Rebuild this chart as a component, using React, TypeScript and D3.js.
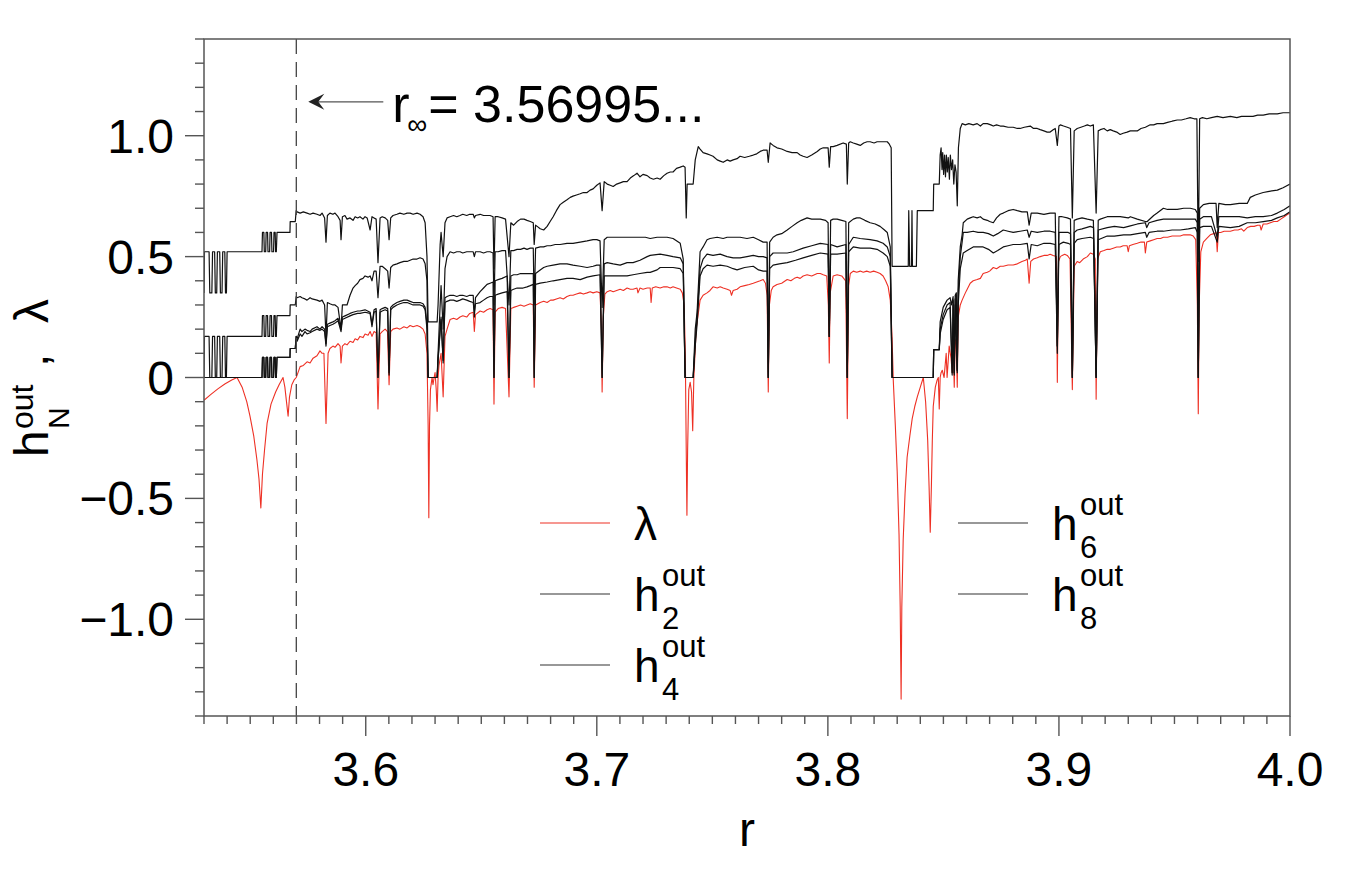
import React from 'react';
import * as d3 from 'd3';

type Pt = [number, number];

const W = 1355;
const H = 873;
const plot = { left: 204, right: 1290, top: 39, bottom: 716 };

const rInf = 3.56995;
const xMajor = [3.6, 3.7, 3.8, 3.9, 4.0];
const xLabels = ['3.6', '3.7', '3.8', '3.9', '4.0'];
const yMajor = [-1.0, -0.5, 0, 0.5, 1.0];
const yLabels = ['\u22121.0', '\u22120.5', '0', '0.5', '1.0'];

// Lyapunov exponent (red)
const lambdaData: Pt[] = [
  [3.5300, -0.094], [3.5330, -0.07], [3.5360, -0.047], [3.5390, -0.027], [3.5420, -0.01], [3.5443, 0.0],
  [3.5465, -0.04], [3.5485, -0.1], [3.5499, -0.16], [3.5515, -0.24], [3.5529, -0.34], [3.5538, -0.42],
  [3.5546, -0.54], [3.5553, -0.4], [3.5562, -0.3], [3.5573, -0.19], [3.5590, -0.11], [3.5610, -0.06],
  [3.5625, -0.03], [3.5642, 0.0], [3.5650, -0.04], [3.5657, -0.1], [3.5664, -0.16], [3.5670, -0.08],
  [3.5680, -0.03], [3.5690, -0.01], [3.5699, 0.0],
  [3.5703, 0.01], [3.5716, 0.045], [3.5730, 0.05], [3.5746, 0.065], [3.5759, 0.06], [3.5772, 0.08],
  [3.5789, 0.09], [3.5802, 0.11], [3.5811, 0.1], [3.5819, 0.1], [3.5828, -0.19], [3.5837, 0.1],
  [3.5845, 0.12], [3.5858, 0.13], [3.5867, 0.125], [3.5880, 0.14], [3.5889, 0.13], [3.5893, 0.06],
  [3.5899, 0.13], [3.5910, 0.14], [3.5919, 0.135], [3.5932, 0.15], [3.5945, 0.145], [3.5954, 0.16],
  [3.5965, 0.155], [3.5975, 0.17], [3.5988, 0.165], [3.5997, 0.18], [3.6010, 0.175], [3.6019, 0.19],
  [3.6027, 0.17], [3.6036, 0.19], [3.6045, 0.185], [3.6053, -0.13], [3.6062, 0.18], [3.6071, 0.19],
  [3.6084, 0.2], [3.6094, 0.19], [3.6101, -0.03], [3.6108, 0.19], [3.6118, 0.2], [3.6135, 0.205],
  [3.6148, 0.2], [3.6165, 0.21], [3.6179, 0.205], [3.6192, 0.215], [3.6205, 0.21], [3.6222, 0.215],
  [3.6235, 0.21], [3.6248, 0.2], [3.6257, 0.18], [3.6265, 0.1], [3.6270, -0.2], [3.6273, -0.58],
  [3.6276, -0.2], [3.6280, -0.05], [3.6287, 0.0], [3.6291, -0.03], [3.6296, 0.0], [3.6300, 0.02],
  [3.6305, -0.05], [3.6309, -0.14], [3.6313, 0.0], [3.6317, 0.05], [3.6326, 0.1], [3.6335, -0.08],
  [3.6343, 0.17], [3.6352, 0.2], [3.6365, 0.24], [3.6380, 0.245], [3.6394, 0.24], [3.6408, 0.25],
  [3.6420, 0.255], [3.6437, 0.25], [3.6450, 0.265], [3.6465, 0.27], [3.6470, 0.19], [3.6475, 0.26],
  [3.6495, 0.275], [3.6510, 0.27], [3.6525, 0.28], [3.6538, 0.285], [3.6551, 0.28], [3.6555, -0.11],
  [3.6560, 0.27], [3.6573, 0.285], [3.6590, 0.29], [3.6605, 0.285], [3.6620, -0.08], [3.6628, 0.285],
  [3.6640, 0.29], [3.6655, 0.295], [3.6670, 0.3], [3.6685, 0.295], [3.6698, 0.3], [3.6712, 0.305],
  [3.6725, 0.3], [3.6729, -0.04], [3.6735, 0.3], [3.6755, 0.31], [3.6770, 0.315], [3.6785, 0.31],
  [3.6800, 0.32], [3.6811, 0.32], [3.6825, 0.325], [3.6841, 0.33], [3.6855, 0.325], [3.6871, 0.335],
  [3.6885, 0.34], [3.6897, 0.34], [3.6912, 0.345], [3.6928, 0.35], [3.6942, 0.345], [3.6958, 0.35],
  [3.6971, 0.355], [3.6984, 0.35], [3.7000, 0.355], [3.7014, 0.35], [3.7020, 0.2], [3.7023, -0.06],
  [3.7028, 0.25], [3.7035, 0.345], [3.7045, 0.355], [3.7058, 0.36], [3.7071, 0.355], [3.7086, 0.36],
  [3.7101, 0.365], [3.7115, 0.36], [3.7131, 0.37], [3.7145, 0.365], [3.7157, 0.365], [3.7174, 0.37],
  [3.7178, 0.35], [3.7187, 0.37], [3.7200, 0.365], [3.7218, 0.37], [3.7231, 0.37], [3.7235, 0.31],
  [3.7240, 0.37], [3.7255, 0.375], [3.7274, 0.37], [3.7290, 0.375], [3.7304, 0.375], [3.7318, 0.37],
  [3.7330, 0.375], [3.7345, 0.37], [3.7361, 0.365], [3.7370, 0.35], [3.7378, 0.3], [3.7383, 0.1],
  [3.7387, -0.3], [3.7390, -0.57], [3.7393, -0.3], [3.7398, -0.05], [3.7404, -0.02], [3.7410, -0.06],
  [3.7415, -0.22], [3.7420, 0.0], [3.7430, 0.2], [3.7447, 0.32], [3.7460, 0.34], [3.7477, 0.35],
  [3.7490, 0.36], [3.7503, 0.375], [3.7521, 0.37], [3.7534, 0.375], [3.7547, 0.37], [3.7564, 0.365],
  [3.7577, 0.36], [3.7583, 0.34], [3.7590, 0.36], [3.7607, 0.365], [3.7620, 0.375], [3.7640, 0.38],
  [3.7660, 0.385], [3.7677, 0.39], [3.7692, 0.395], [3.7707, 0.4], [3.7720, 0.405], [3.7730, 0.39],
  [3.7737, 0.34], [3.7742, -0.06], [3.7747, 0.3], [3.7755, 0.36], [3.7763, 0.375], [3.7780, 0.385],
  [3.7800, 0.39], [3.7824, 0.405], [3.7840, 0.4], [3.7855, 0.41], [3.7867, 0.415], [3.7880, 0.41],
  [3.7893, 0.42], [3.7910, 0.425], [3.7930, 0.42], [3.7954, 0.43], [3.7967, 0.43], [3.7980, 0.425],
  [3.7995, 0.42], [3.8002, 0.3], [3.8006, 0.06], [3.8010, 0.35], [3.8023, 0.42], [3.8040, 0.425],
  [3.8060, 0.42], [3.8077, 0.4], [3.8084, -0.17], [3.8090, 0.38], [3.8097, 0.43], [3.8110, 0.44],
  [3.8125, 0.435], [3.8140, 0.44], [3.8153, 0.435], [3.8168, 0.44], [3.8183, 0.435], [3.8198, 0.44],
  [3.8213, 0.435], [3.8226, 0.43], [3.8239, 0.42], [3.8250, 0.4], [3.8261, 0.375], [3.8270, 0.32],
  [3.8274, 0.25], [3.8278, 0.16], [3.8283, -0.01], [3.8292, -0.2], [3.8300, -0.39], [3.8308, -0.65],
  [3.8313, -0.95], [3.8317, -1.33], [3.8320, -0.95], [3.8326, -0.67], [3.8334, -0.48], [3.8343, -0.33],
  [3.8355, -0.24], [3.8365, -0.17], [3.8376, -0.12], [3.8387, -0.08], [3.8400, -0.04], [3.8413, 0.0],
  [3.8423, -0.1], [3.8432, -0.26], [3.8438, -0.45], [3.8443, -0.64], [3.8448, -0.45], [3.8452, -0.26],
  [3.8456, -0.12], [3.8465, -0.04], [3.8473, -0.01], [3.8478, 0.0], [3.8482, -0.13], [3.8486, 0.0],
  [3.8490, 0.02], [3.8495, 0.03], [3.8503, 0.0], [3.8512, 0.1], [3.8516, 0.0], [3.8525, 0.13],
  [3.8533, 0.08], [3.8538, 0.02], [3.8542, 0.14], [3.8547, -0.04], [3.8551, 0.15], [3.8555, 0.16],
  [3.8560, -0.04], [3.8564, 0.25], [3.8573, 0.3], [3.8581, 0.32], [3.8595, 0.35], [3.8603, 0.365],
  [3.8616, 0.39], [3.8629, 0.4], [3.8646, 0.405], [3.8660, 0.41], [3.8672, 0.43], [3.8690, 0.435],
  [3.8700, 0.44], [3.8716, 0.455], [3.8730, 0.45], [3.8746, 0.46], [3.8759, 0.46], [3.8780, 0.465],
  [3.8802, 0.465], [3.8820, 0.47], [3.8840, 0.48], [3.8855, 0.485], [3.8863, 0.49], [3.8871, 0.39],
  [3.8878, 0.48], [3.8890, 0.49], [3.8906, 0.495], [3.8919, 0.5], [3.8935, 0.505], [3.8949, 0.505],
  [3.8962, 0.51], [3.8975, 0.505], [3.8989, 0.5], [3.8993, -0.02], [3.8998, 0.48], [3.9006, 0.5],
  [3.9014, 0.505], [3.9025, 0.51], [3.9036, 0.505], [3.9048, 0.49], [3.9058, -0.05], [3.9066, 0.46],
  [3.9079, 0.48], [3.9090, 0.475], [3.9105, 0.49], [3.9123, 0.5], [3.9136, 0.515], [3.9149, 0.51],
  [3.9157, 0.49], [3.9161, -0.09], [3.9167, 0.49], [3.9179, 0.52], [3.9195, 0.525], [3.9209, 0.53],
  [3.9222, 0.53], [3.9235, 0.535], [3.9250, 0.54], [3.9265, 0.54], [3.9278, 0.545], [3.9295, 0.545],
  [3.9300, 0.52], [3.9305, 0.545], [3.9320, 0.55], [3.9339, 0.555], [3.9355, 0.56], [3.9370, 0.56],
  [3.9374, 0.515], [3.9380, 0.56], [3.9395, 0.565], [3.9410, 0.57], [3.9425, 0.575], [3.9440, 0.575],
  [3.9452, 0.58], [3.9470, 0.58], [3.9490, 0.585], [3.9512, 0.585], [3.9525, 0.585], [3.9540, 0.59],
  [3.9555, 0.59], [3.9568, 0.59], [3.9581, 0.585], [3.9592, 0.57], [3.9599, 0.3], [3.9603, -0.15],
  [3.9607, 0.3], [3.9614, 0.52], [3.9625, 0.56], [3.9640, 0.575], [3.9655, 0.59], [3.9670, 0.595],
  [3.9680, 0.6], [3.9685, 0.52], [3.9690, 0.6], [3.9700, 0.6], [3.9715, 0.605], [3.9730, 0.605],
  [3.9742, 0.605], [3.9760, 0.61], [3.9775, 0.61], [3.9790, 0.615], [3.9800, 0.605], [3.9815, 0.62],
  [3.9830, 0.625], [3.9845, 0.625], [3.9860, 0.63], [3.9870, 0.63], [3.9875, 0.61], [3.9884, 0.635],
  [3.9900, 0.635], [3.9915, 0.64], [3.9930, 0.645], [3.9945, 0.645], [3.9960, 0.655], [3.9975, 0.665],
  [3.9990, 0.675], [4.0, 0.68],
];

// h2 out (top black curve)
const h2Data: Pt[] = [
  [3.5300, 0.35], [3.5302, 0.52], [3.5322, 0.52], [3.5325, 0.35], [3.5334, 0.35], [3.5337, 0.52],
  [3.5346, 0.52], [3.5349, 0.35], [3.5355, 0.35], [3.5358, 0.52], [3.5368, 0.52], [3.5371, 0.35],
  [3.5378, 0.35], [3.5381, 0.52], [3.5390, 0.52], [3.5393, 0.35], [3.5397, 0.35], [3.5400, 0.52],
  [3.5551, 0.52], [3.5553, 0.6], [3.5559, 0.6], [3.5561, 0.52], [3.5567, 0.52], [3.5569, 0.6],
  [3.5575, 0.6], [3.5577, 0.52], [3.5584, 0.52], [3.5586, 0.6], [3.5592, 0.6], [3.5594, 0.52],
  [3.5601, 0.52], [3.5603, 0.6], [3.5608, 0.6], [3.5610, 0.52], [3.5613, 0.52], [3.5616, 0.6],
  [3.5672, 0.6], [3.5673, 0.645], [3.5695, 0.645], [3.5699, 0.69],
  [3.5703, 0.685], [3.5716, 0.68], [3.5730, 0.685], [3.5746, 0.68], [3.5759, 0.675], [3.5772, 0.68],
  [3.5789, 0.675], [3.5802, 0.67], [3.5811, 0.68], [3.5822, 0.66], [3.5828, 0.56], [3.5834, 0.67],
  [3.5845, 0.68], [3.5858, 0.675], [3.5867, 0.68], [3.5880, 0.665], [3.5889, 0.65], [3.5893, 0.57],
  [3.5899, 0.665], [3.5910, 0.67], [3.5919, 0.655], [3.5932, 0.66], [3.5945, 0.65], [3.5954, 0.665],
  [3.5965, 0.66], [3.5975, 0.665], [3.5988, 0.655], [3.5997, 0.665], [3.6006, 0.66], [3.6019, 0.61],
  [3.6027, 0.665], [3.6036, 0.66], [3.6045, 0.655], [3.6053, 0.475], [3.6062, 0.66], [3.6071, 0.665],
  [3.6084, 0.66], [3.6095, 0.65], [3.6101, 0.57], [3.6108, 0.66], [3.6118, 0.67], [3.6135, 0.675],
  [3.6148, 0.68], [3.6165, 0.675], [3.6179, 0.68], [3.6192, 0.68], [3.6205, 0.675], [3.6222, 0.68],
  [3.6235, 0.675], [3.6248, 0.665], [3.6257, 0.64], [3.6265, 0.5], [3.6270, 0.23], [3.6309, 0.23],
  [3.6313, 0.3], [3.6322, 0.55], [3.6326, 0.6], [3.6335, 0.5], [3.6343, 0.64], [3.6352, 0.66],
  [3.6365, 0.665], [3.6380, 0.67], [3.6394, 0.665], [3.6408, 0.67], [3.6420, 0.675], [3.6437, 0.67],
  [3.6450, 0.675], [3.6465, 0.675], [3.6470, 0.66], [3.6475, 0.67], [3.6495, 0.675], [3.6510, 0.67],
  [3.6525, 0.67], [3.6538, 0.67], [3.6551, 0.665], [3.6555, 0.45], [3.6560, 0.665], [3.6573, 0.665],
  [3.6590, 0.66], [3.6605, 0.655], [3.6620, 0.5], [3.6628, 0.64], [3.6640, 0.63], [3.6655, 0.645],
  [3.6670, 0.655], [3.6685, 0.655], [3.6698, 0.65], [3.6712, 0.645], [3.6725, 0.64], [3.6729, 0.55],
  [3.6735, 0.63], [3.6742, 0.625], [3.6755, 0.615], [3.6770, 0.61], [3.6785, 0.625], [3.6798, 0.645],
  [3.6811, 0.665], [3.6825, 0.69], [3.6841, 0.715], [3.6855, 0.725], [3.6871, 0.735], [3.6885, 0.745],
  [3.6897, 0.75], [3.6912, 0.755], [3.6928, 0.76], [3.6942, 0.765], [3.6958, 0.765], [3.6971, 0.775],
  [3.6984, 0.78], [3.7000, 0.795], [3.7014, 0.805], [3.7023, 0.69], [3.7032, 0.81], [3.7045, 0.8],
  [3.7058, 0.795], [3.7071, 0.79], [3.7086, 0.8], [3.7101, 0.805], [3.7115, 0.81], [3.7131, 0.81],
  [3.7145, 0.825], [3.7160, 0.835], [3.7174, 0.845], [3.7187, 0.83], [3.7200, 0.84], [3.7218, 0.835],
  [3.7231, 0.825], [3.7245, 0.82], [3.7261, 0.825], [3.7274, 0.82], [3.7290, 0.835], [3.7304, 0.845],
  [3.7318, 0.85], [3.7330, 0.85], [3.7345, 0.865], [3.7361, 0.87], [3.7374, 0.875], [3.7382, 0.87],
  [3.7387, 0.66], [3.7391, 0.8], [3.7417, 0.8], [3.7426, 0.9], [3.7439, 0.955], [3.7447, 0.945],
  [3.7460, 0.93], [3.7477, 0.925], [3.7490, 0.92], [3.7503, 0.915], [3.7521, 0.9], [3.7534, 0.895],
  [3.7547, 0.89], [3.7564, 0.9], [3.7577, 0.895], [3.7590, 0.9], [3.7607, 0.905], [3.7620, 0.915],
  [3.7640, 0.91], [3.7660, 0.915], [3.7677, 0.92], [3.7692, 0.925], [3.7707, 0.935], [3.7720, 0.94],
  [3.7737, 0.94], [3.7742, 0.89], [3.7750, 0.97], [3.7763, 0.96], [3.7780, 0.95], [3.7800, 0.945],
  [3.7824, 0.935], [3.7845, 0.93], [3.7867, 0.93], [3.7880, 0.92], [3.7893, 0.915], [3.7910, 0.91],
  [3.7930, 0.92], [3.7954, 0.935], [3.7967, 0.945], [3.7980, 0.95], [3.8001, 0.95], [3.8006, 0.87],
  [3.8012, 0.955], [3.8023, 0.955], [3.8040, 0.96], [3.8066, 0.97], [3.8080, 0.965], [3.8084, 0.8],
  [3.8090, 0.97], [3.8097, 0.975], [3.8110, 0.97], [3.8125, 0.965], [3.8140, 0.96], [3.8155, 0.97],
  [3.8170, 0.975], [3.8183, 0.975], [3.8200, 0.97], [3.8213, 0.975], [3.8226, 0.975], [3.8239, 0.975],
  [3.8257, 0.975], [3.8266, 0.965], [3.8274, 0.95], [3.8278, 0.46], [3.8348, 0.46], [3.8350, 0.69],
  [3.8354, 0.46], [3.8362, 0.46], [3.8364, 0.69], [3.8366, 0.46], [3.8383, 0.46], [3.8387, 0.69],
  [3.8456, 0.69], [3.8458, 0.8], [3.8482, 0.8], [3.8486, 0.92], [3.8490, 0.95], [3.8494, 0.86],
  [3.8497, 0.93], [3.8501, 0.84], [3.8505, 0.92], [3.8509, 0.83], [3.8513, 0.92], [3.8517, 0.85],
  [3.8521, 0.91], [3.8526, 0.82], [3.8530, 0.92], [3.8535, 0.86], [3.8540, 0.9], [3.8545, 0.8],
  [3.8550, 0.88], [3.8555, 0.85], [3.8560, 0.71], [3.8565, 0.95], [3.8573, 1.03], [3.8581, 1.05],
  [3.8595, 1.045], [3.8610, 1.05], [3.8629, 1.045], [3.8646, 1.05], [3.8660, 1.04], [3.8672, 1.05],
  [3.8690, 1.05], [3.8705, 1.045], [3.8716, 1.04], [3.8730, 1.045], [3.8746, 1.04], [3.8759, 1.04],
  [3.8780, 1.035], [3.8802, 1.035], [3.8820, 1.03], [3.8832, 1.03], [3.8850, 1.035], [3.8876, 1.04],
  [3.8890, 1.03], [3.8906, 1.03], [3.8919, 1.025], [3.8935, 1.02], [3.8949, 1.015], [3.8962, 1.015],
  [3.8975, 1.025], [3.8984, 1.03], [3.8993, 0.96], [3.9000, 1.04], [3.9006, 1.045], [3.9020, 1.04],
  [3.9036, 1.035], [3.9050, 1.03], [3.9058, 0.66], [3.9066, 1.02], [3.9079, 1.03], [3.9095, 1.035],
  [3.9110, 1.04], [3.9123, 1.045], [3.9136, 1.04], [3.9149, 1.045], [3.9161, 0.68], [3.9170, 1.02],
  [3.9179, 1.025], [3.9195, 1.03], [3.9209, 1.02], [3.9222, 1.025], [3.9235, 1.02], [3.9250, 1.015],
  [3.9265, 1.005], [3.9278, 1.01], [3.9295, 1.015], [3.9309, 1.02], [3.9325, 1.02], [3.9339, 1.02],
  [3.9355, 1.03], [3.9374, 1.035], [3.9395, 1.045], [3.9410, 1.045], [3.9425, 1.05], [3.9440, 1.05],
  [3.9452, 1.05], [3.9470, 1.055], [3.9490, 1.06], [3.9512, 1.065], [3.9530, 1.065], [3.9550, 1.07],
  [3.9568, 1.075], [3.9585, 1.07], [3.9597, 1.07], [3.9603, 0.48], [3.9609, 1.07], [3.9621, 1.075],
  [3.9640, 1.07], [3.9660, 1.075], [3.9685, 1.08], [3.9710, 1.075], [3.9742, 1.08], [3.9770, 1.075],
  [3.9790, 1.08], [3.9815, 1.08], [3.9840, 1.08], [3.9860, 1.085], [3.9884, 1.085], [3.9910, 1.09],
  [3.9945, 1.09], [3.9970, 1.095], [4.0, 1.095],
];

// h4 out
const h4Data: Pt[] = [
  [3.5300, 0.0], [3.5302, 0.17], [3.5322, 0.17], [3.5325, 0.0], [3.5334, 0.0], [3.5337, 0.17],
  [3.5346, 0.17], [3.5349, 0.0], [3.5355, 0.0], [3.5358, 0.17], [3.5368, 0.17], [3.5371, 0.0],
  [3.5378, 0.0], [3.5381, 0.17], [3.5390, 0.17], [3.5393, 0.0], [3.5397, 0.0], [3.5400, 0.17],
  [3.5551, 0.17], [3.5553, 0.256], [3.5559, 0.256], [3.5561, 0.17], [3.5567, 0.17], [3.5569, 0.256],
  [3.5575, 0.256], [3.5577, 0.17], [3.5584, 0.17], [3.5586, 0.256], [3.5592, 0.256], [3.5594, 0.17],
  [3.5601, 0.17], [3.5603, 0.256], [3.5608, 0.256], [3.5610, 0.17], [3.5613, 0.17], [3.5616, 0.256],
  [3.5672, 0.256], [3.5673, 0.3], [3.5695, 0.3], [3.5699, 0.335],
  [3.5703, 0.33], [3.5716, 0.335], [3.5724, 0.33], [3.5737, 0.325], [3.5746, 0.32], [3.5759, 0.33],
  [3.5768, 0.325], [3.5789, 0.32], [3.5802, 0.315], [3.5811, 0.32], [3.5822, 0.3], [3.5828, 0.17],
  [3.5834, 0.31], [3.5845, 0.305], [3.5858, 0.3], [3.5867, 0.3], [3.5880, 0.29], [3.5893, 0.2],
  [3.5899, 0.3], [3.5910, 0.3], [3.5919, 0.3], [3.5932, 0.34], [3.5945, 0.37], [3.5954, 0.38],
  [3.5965, 0.39], [3.5975, 0.405], [3.5988, 0.41], [3.5997, 0.42], [3.6010, 0.415], [3.6019, 0.42],
  [3.6027, 0.4], [3.6036, 0.44], [3.6045, 0.44], [3.6053, 0.33], [3.6062, 0.46], [3.6071, 0.46],
  [3.6084, 0.45], [3.6095, 0.44], [3.6101, 0.37], [3.6108, 0.455], [3.6118, 0.465], [3.6135, 0.47],
  [3.6148, 0.475], [3.6165, 0.48], [3.6179, 0.48], [3.6192, 0.485], [3.6205, 0.49], [3.6222, 0.49],
  [3.6235, 0.495], [3.6248, 0.49], [3.6257, 0.47], [3.6265, 0.4], [3.6270, 0.0], [3.6309, 0.0],
  [3.6313, 0.1], [3.6322, 0.3], [3.6326, 0.38], [3.6335, 0.2], [3.6343, 0.45], [3.6352, 0.5],
  [3.6365, 0.52], [3.6380, 0.515], [3.6394, 0.52], [3.6408, 0.52], [3.6420, 0.515], [3.6437, 0.52],
  [3.6450, 0.52], [3.6465, 0.52], [3.6470, 0.5], [3.6475, 0.52], [3.6495, 0.52], [3.6510, 0.515],
  [3.6525, 0.52], [3.6538, 0.52], [3.6551, 0.515], [3.6555, 0.3], [3.6560, 0.52], [3.6573, 0.52],
  [3.6590, 0.525], [3.6605, 0.525], [3.6620, 0.3], [3.6628, 0.525], [3.6640, 0.525], [3.6655, 0.53],
  [3.6670, 0.53], [3.6685, 0.535], [3.6698, 0.53], [3.6712, 0.535], [3.6725, 0.535], [3.6729, 0.3],
  [3.6735, 0.535], [3.6755, 0.54], [3.6770, 0.54], [3.6785, 0.545], [3.6800, 0.545], [3.6820, 0.55],
  [3.6841, 0.55], [3.6871, 0.555], [3.6897, 0.555], [3.6928, 0.56], [3.6958, 0.565], [3.6984, 0.57],
  [3.7000, 0.57], [3.7014, 0.565], [3.7023, 0.29], [3.7032, 0.57], [3.7045, 0.58], [3.7071, 0.58],
  [3.7101, 0.58], [3.7131, 0.58], [3.7157, 0.58], [3.7187, 0.58], [3.7210, 0.58], [3.7231, 0.575],
  [3.7261, 0.58], [3.7290, 0.58], [3.7304, 0.58], [3.7330, 0.575], [3.7361, 0.555], [3.7374, 0.49],
  [3.7382, 0.0], [3.7417, 0.0], [3.7426, 0.2], [3.7434, 0.27], [3.7447, 0.52], [3.7460, 0.54],
  [3.7477, 0.57], [3.7490, 0.575], [3.7521, 0.58], [3.7547, 0.575], [3.7564, 0.58], [3.7590, 0.58],
  [3.7620, 0.58], [3.7650, 0.575], [3.7677, 0.58], [3.7700, 0.57], [3.7720, 0.56], [3.7737, 0.56],
  [3.7742, 0.0], [3.7748, 0.56], [3.7763, 0.58], [3.7780, 0.59], [3.7800, 0.595], [3.7824, 0.61],
  [3.7845, 0.625], [3.7867, 0.64], [3.7885, 0.65], [3.7910, 0.66], [3.7930, 0.655], [3.7954, 0.655],
  [3.7967, 0.655], [3.7990, 0.65], [3.8001, 0.64], [3.8006, 0.17], [3.8012, 0.65], [3.8023, 0.655],
  [3.8040, 0.655], [3.8060, 0.65], [3.8078, 0.645], [3.8084, 0.0], [3.8090, 0.64], [3.8110, 0.655],
  [3.8125, 0.66], [3.8140, 0.66], [3.8160, 0.65], [3.8183, 0.64], [3.8205, 0.635], [3.8226, 0.625],
  [3.8245, 0.61], [3.8257, 0.6], [3.8270, 0.54], [3.8278, 0.0], [3.8456, 0.0], [3.8458, 0.115],
  [3.8482, 0.115], [3.8486, 0.23], [3.8499, 0.29], [3.8516, 0.32], [3.8529, 0.33], [3.8535, 0.3],
  [3.8542, 0.335], [3.8547, 0.02], [3.8551, 0.34], [3.8556, 0.35], [3.8560, 0.03], [3.8564, 0.4],
  [3.8573, 0.54], [3.8581, 0.59], [3.8586, 0.64], [3.8603, 0.655], [3.8616, 0.66], [3.8629, 0.665],
  [3.8646, 0.66], [3.8660, 0.665], [3.8672, 0.655], [3.8690, 0.65], [3.8700, 0.645], [3.8716, 0.64],
  [3.8730, 0.66], [3.8746, 0.675], [3.8759, 0.68], [3.8780, 0.69], [3.8802, 0.695], [3.8820, 0.69],
  [3.8840, 0.685], [3.8863, 0.685], [3.8871, 0.63], [3.8880, 0.68], [3.8906, 0.68], [3.8935, 0.675],
  [3.8962, 0.68], [3.8984, 0.68], [3.8993, 0.13], [3.9000, 0.665], [3.9014, 0.665], [3.9036, 0.66],
  [3.9050, 0.655], [3.9058, 0.0], [3.9066, 0.65], [3.9079, 0.655], [3.9100, 0.66], [3.9123, 0.655],
  [3.9149, 0.65], [3.9161, 0.0], [3.9170, 0.65], [3.9179, 0.655], [3.9209, 0.665], [3.9235, 0.665],
  [3.9265, 0.665], [3.9300, 0.66], [3.9309, 0.665], [3.9339, 0.655], [3.9374, 0.645], [3.9382, 0.645],
  [3.9410, 0.67], [3.9425, 0.68], [3.9452, 0.7], [3.9470, 0.695], [3.9512, 0.695], [3.9540, 0.7],
  [3.9568, 0.7], [3.9590, 0.695], [3.9599, 0.68], [3.9603, 0.0], [3.9609, 0.7], [3.9625, 0.715],
  [3.9650, 0.72], [3.9680, 0.72], [3.9685, 0.62], [3.9692, 0.72], [3.9720, 0.715], [3.9742, 0.715],
  [3.9780, 0.72], [3.9815, 0.72], [3.9828, 0.745], [3.9850, 0.755], [3.9884, 0.765], [3.9910, 0.77],
  [3.9945, 0.775], [3.9970, 0.785], [4.0, 0.8],
];

// h6 out
const h6Data: Pt[] = [
  [3.5300, 0.0], [3.5551, 0.0], [3.5553, 0.083], [3.5559, 0.083], [3.5561, 0.0], [3.5567, 0.0],
  [3.5569, 0.083], [3.5575, 0.083], [3.5577, 0.0], [3.5584, 0.0], [3.5586, 0.083], [3.5592, 0.083],
  [3.5594, 0.0], [3.5601, 0.0], [3.5603, 0.083], [3.5608, 0.083], [3.5610, 0.0], [3.5613, 0.0],
  [3.5616, 0.083], [3.5672, 0.083], [3.5673, 0.12], [3.5695, 0.12], [3.5699, 0.17],
  [3.5703, 0.16], [3.5716, 0.2], [3.5724, 0.19], [3.5737, 0.2], [3.5746, 0.195], [3.5759, 0.19],
  [3.5768, 0.2], [3.5789, 0.21], [3.5802, 0.2], [3.5811, 0.21], [3.5822, 0.2], [3.5828, 0.14],
  [3.5834, 0.22], [3.5845, 0.225], [3.5858, 0.23], [3.5867, 0.235], [3.5880, 0.245], [3.5893, 0.2],
  [3.5899, 0.25], [3.5910, 0.255], [3.5932, 0.265], [3.5945, 0.27], [3.5965, 0.275], [3.5975, 0.275],
  [3.5997, 0.28], [3.6019, 0.27], [3.6027, 0.22], [3.6036, 0.28], [3.6045, 0.285], [3.6053, 0.0],
  [3.6062, 0.28], [3.6071, 0.285], [3.6084, 0.29], [3.6095, 0.285], [3.6101, 0.02], [3.6108, 0.29],
  [3.6118, 0.3], [3.6135, 0.31], [3.6148, 0.315], [3.6165, 0.32], [3.6179, 0.32], [3.6192, 0.315],
  [3.6205, 0.31], [3.6222, 0.31], [3.6235, 0.31], [3.6248, 0.305], [3.6257, 0.29], [3.6265, 0.22],
  [3.6270, 0.0], [3.6309, 0.0], [3.6313, 0.08], [3.6322, 0.2], [3.6326, 0.25], [3.6335, 0.07],
  [3.6343, 0.33], [3.6352, 0.335], [3.6365, 0.34], [3.6380, 0.34], [3.6394, 0.335], [3.6408, 0.34],
  [3.6420, 0.34], [3.6437, 0.335], [3.6450, 0.34], [3.6465, 0.34], [3.6470, 0.25], [3.6475, 0.33],
  [3.6495, 0.355], [3.6510, 0.37], [3.6525, 0.385], [3.6538, 0.39], [3.6551, 0.395], [3.6555, 0.0],
  [3.6560, 0.4], [3.6573, 0.405], [3.6590, 0.41], [3.6612, 0.42], [3.6620, 0.0], [3.6628, 0.42],
  [3.6640, 0.425], [3.6655, 0.425], [3.6670, 0.43], [3.6685, 0.43], [3.6698, 0.43], [3.6712, 0.43],
  [3.6725, 0.43], [3.6729, 0.0], [3.6735, 0.43], [3.6755, 0.445], [3.6770, 0.455], [3.6785, 0.46],
  [3.6811, 0.465], [3.6841, 0.47], [3.6871, 0.47], [3.6897, 0.465], [3.6928, 0.46], [3.6958, 0.455],
  [3.6984, 0.46], [3.7000, 0.465], [3.7014, 0.465], [3.7023, 0.0], [3.7032, 0.47], [3.7045, 0.475],
  [3.7071, 0.47], [3.7101, 0.465], [3.7131, 0.475], [3.7157, 0.475], [3.7187, 0.485], [3.7218, 0.5],
  [3.7231, 0.505], [3.7274, 0.51], [3.7304, 0.505], [3.7330, 0.5], [3.7361, 0.495], [3.7374, 0.47],
  [3.7382, 0.0], [3.7417, 0.0], [3.7426, 0.15], [3.7434, 0.25], [3.7447, 0.45], [3.7460, 0.49],
  [3.7477, 0.51], [3.7503, 0.505], [3.7534, 0.51], [3.7564, 0.5], [3.7590, 0.495], [3.7620, 0.495],
  [3.7650, 0.5], [3.7677, 0.505], [3.7700, 0.5], [3.7720, 0.5], [3.7737, 0.495], [3.7742, 0.0],
  [3.7748, 0.5], [3.7763, 0.515], [3.7790, 0.515], [3.7824, 0.515], [3.7850, 0.52], [3.7893, 0.535],
  [3.7930, 0.545], [3.7967, 0.555], [3.8001, 0.55], [3.8006, 0.17], [3.8012, 0.55], [3.8040, 0.54],
  [3.8078, 0.55], [3.8084, 0.0], [3.8090, 0.55], [3.8110, 0.58], [3.8140, 0.575], [3.8183, 0.57],
  [3.8213, 0.565], [3.8239, 0.555], [3.8257, 0.54], [3.8270, 0.5], [3.8278, 0.0], [3.8456, 0.0],
  [3.8458, 0.115], [3.8482, 0.115], [3.8486, 0.2], [3.8499, 0.26], [3.8516, 0.3], [3.8529, 0.31],
  [3.8538, 0.02], [3.8542, 0.32], [3.8547, 0.02], [3.8551, 0.325], [3.8560, 0.03], [3.8564, 0.35],
  [3.8573, 0.5], [3.8581, 0.56], [3.8586, 0.6], [3.8603, 0.6], [3.8629, 0.605], [3.8650, 0.6],
  [3.8672, 0.6], [3.8695, 0.595], [3.8716, 0.585], [3.8735, 0.595], [3.8759, 0.61], [3.8780, 0.605],
  [3.8802, 0.6], [3.8832, 0.605], [3.8863, 0.61], [3.8871, 0.58], [3.8880, 0.605], [3.8906, 0.6],
  [3.8935, 0.605], [3.8962, 0.605], [3.8984, 0.6], [3.8993, 0.13], [3.9000, 0.6], [3.9019, 0.6],
  [3.9040, 0.6], [3.9050, 0.595], [3.9058, 0.0], [3.9066, 0.6], [3.9079, 0.61], [3.9100, 0.615],
  [3.9136, 0.625], [3.9150, 0.62], [3.9161, 0.0], [3.9170, 0.61], [3.9209, 0.62], [3.9240, 0.625],
  [3.9280, 0.62], [3.9309, 0.627], [3.9340, 0.635], [3.9374, 0.64], [3.9380, 0.62], [3.9390, 0.64],
  [3.9425, 0.65], [3.9452, 0.655], [3.9490, 0.655], [3.9525, 0.655], [3.9560, 0.655], [3.9590, 0.655],
  [3.9599, 0.64], [3.9603, 0.0], [3.9609, 0.655], [3.9625, 0.665], [3.9660, 0.665], [3.9685, 0.58],
  [3.9692, 0.665], [3.9742, 0.665], [3.9780, 0.665], [3.9815, 0.66], [3.9850, 0.665], [3.9884, 0.665],
  [3.9920, 0.67], [3.9945, 0.68], [3.9975, 0.695], [4.0, 0.71],
];

// h8 out
const h8Data: Pt[] = [
  [3.5300, 0.0], [3.5551, 0.0], [3.5553, 0.083], [3.5559, 0.083], [3.5561, 0.0], [3.5567, 0.0],
  [3.5569, 0.083], [3.5575, 0.083], [3.5577, 0.0], [3.5584, 0.0], [3.5586, 0.083], [3.5592, 0.083],
  [3.5594, 0.0], [3.5601, 0.0], [3.5603, 0.083], [3.5608, 0.083], [3.5610, 0.0], [3.5613, 0.0],
  [3.5616, 0.083], [3.5672, 0.083], [3.5673, 0.12], [3.5695, 0.12], [3.5699, 0.17],
  [3.5703, 0.15], [3.5716, 0.18], [3.5724, 0.17], [3.5737, 0.19], [3.5746, 0.18], [3.5759, 0.185],
  [3.5768, 0.19], [3.5789, 0.2], [3.5802, 0.195], [3.5811, 0.2], [3.5822, 0.19], [3.5828, 0.13],
  [3.5834, 0.21], [3.5845, 0.215], [3.5858, 0.22], [3.5867, 0.225], [3.5880, 0.235], [3.5893, 0.19],
  [3.5899, 0.24], [3.5910, 0.245], [3.5932, 0.255], [3.5945, 0.26], [3.5965, 0.265], [3.5975, 0.265],
  [3.5997, 0.27], [3.6019, 0.265], [3.6027, 0.21], [3.6036, 0.27], [3.6045, 0.275], [3.6053, 0.0],
  [3.6062, 0.27], [3.6071, 0.275], [3.6084, 0.28], [3.6095, 0.275], [3.6101, 0.01], [3.6108, 0.28],
  [3.6118, 0.29], [3.6135, 0.3], [3.6148, 0.305], [3.6165, 0.31], [3.6179, 0.31], [3.6192, 0.305],
  [3.6205, 0.3], [3.6222, 0.3], [3.6235, 0.3], [3.6248, 0.295], [3.6257, 0.28], [3.6265, 0.2],
  [3.6270, 0.0], [3.6309, 0.0], [3.6313, 0.07], [3.6322, 0.19], [3.6326, 0.24], [3.6335, 0.06],
  [3.6343, 0.31], [3.6352, 0.315], [3.6365, 0.32], [3.6380, 0.32], [3.6394, 0.315], [3.6408, 0.32],
  [3.6420, 0.325], [3.6437, 0.32], [3.6450, 0.315], [3.6465, 0.31], [3.6470, 0.27], [3.6475, 0.305],
  [3.6495, 0.31], [3.6510, 0.32], [3.6525, 0.33], [3.6538, 0.335], [3.6551, 0.335], [3.6555, 0.0],
  [3.6560, 0.34], [3.6573, 0.345], [3.6590, 0.35], [3.6612, 0.355], [3.6620, 0.0], [3.6628, 0.36],
  [3.6640, 0.365], [3.6655, 0.37], [3.6681, 0.37], [3.6698, 0.375], [3.6712, 0.38], [3.6725, 0.385],
  [3.6729, 0.0], [3.6735, 0.385], [3.6755, 0.39], [3.6785, 0.395], [3.6811, 0.4], [3.6841, 0.405],
  [3.6871, 0.41], [3.6897, 0.41], [3.6928, 0.405], [3.6958, 0.415], [3.6984, 0.42], [3.7014, 0.425],
  [3.7023, 0.0], [3.7032, 0.42], [3.7045, 0.42], [3.7071, 0.42], [3.7101, 0.42], [3.7131, 0.42],
  [3.7157, 0.425], [3.7187, 0.43], [3.7218, 0.435], [3.7231, 0.435], [3.7261, 0.445], [3.7274, 0.455],
  [3.7304, 0.455], [3.7330, 0.455], [3.7361, 0.45], [3.7374, 0.43], [3.7382, 0.0], [3.7417, 0.0],
  [3.7426, 0.13], [3.7434, 0.22], [3.7447, 0.42], [3.7460, 0.45], [3.7477, 0.465], [3.7503, 0.46],
  [3.7534, 0.465], [3.7564, 0.46], [3.7590, 0.45], [3.7607, 0.445], [3.7640, 0.455], [3.7677, 0.46],
  [3.7700, 0.445], [3.7720, 0.44], [3.7737, 0.44], [3.7742, 0.0], [3.7748, 0.45], [3.7763, 0.465],
  [3.7790, 0.47], [3.7824, 0.475], [3.7860, 0.485], [3.7893, 0.495], [3.7930, 0.505], [3.7967, 0.515],
  [3.8001, 0.51], [3.8006, 0.17], [3.8012, 0.51], [3.8040, 0.51], [3.8078, 0.515], [3.8084, 0.0],
  [3.8090, 0.52], [3.8110, 0.54], [3.8140, 0.535], [3.8183, 0.535], [3.8213, 0.53], [3.8239, 0.515],
  [3.8257, 0.5], [3.8270, 0.46], [3.8278, 0.0], [3.8456, 0.0], [3.8458, 0.115], [3.8482, 0.115],
  [3.8486, 0.18], [3.8499, 0.24], [3.8516, 0.28], [3.8529, 0.29], [3.8538, 0.01], [3.8542, 0.3],
  [3.8547, 0.01], [3.8551, 0.3], [3.8560, 0.02], [3.8564, 0.3], [3.8573, 0.45], [3.8581, 0.49],
  [3.8586, 0.515], [3.8603, 0.525], [3.8629, 0.54], [3.8650, 0.54], [3.8672, 0.54], [3.8695, 0.53],
  [3.8716, 0.515], [3.8735, 0.525], [3.8759, 0.54], [3.8780, 0.545], [3.8802, 0.55], [3.8832, 0.55],
  [3.8863, 0.555], [3.8871, 0.49], [3.8880, 0.55], [3.8906, 0.545], [3.8935, 0.555], [3.8962, 0.555],
  [3.8984, 0.55], [3.8993, 0.1], [3.9000, 0.55], [3.9019, 0.56], [3.9040, 0.555], [3.9050, 0.55],
  [3.9058, 0.0], [3.9066, 0.555], [3.9079, 0.57], [3.9100, 0.575], [3.9136, 0.58], [3.9150, 0.575],
  [3.9161, 0.0], [3.9170, 0.57], [3.9209, 0.585], [3.9240, 0.585], [3.9280, 0.59], [3.9309, 0.59],
  [3.9340, 0.595], [3.9374, 0.6], [3.9380, 0.58], [3.9390, 0.6], [3.9425, 0.605], [3.9452, 0.605],
  [3.9490, 0.61], [3.9525, 0.61], [3.9560, 0.615], [3.9590, 0.62], [3.9599, 0.6], [3.9603, 0.0],
  [3.9609, 0.62], [3.9625, 0.625], [3.9660, 0.625], [3.9685, 0.56], [3.9692, 0.625], [3.9742, 0.62],
  [3.9780, 0.625], [3.9815, 0.64], [3.9850, 0.64], [3.9884, 0.645], [3.9920, 0.65], [3.9945, 0.66],
  [3.9975, 0.67], [4.0, 0.685],
];

const RED = '#ee3024';
const BLACK = '#111';
const AXIS = '#555';
const FONT = '"Liberation Sans", Arial, Helvetica, sans-serif';

export default function App() {
  const x = d3.scaleLinear().domain([3.53, 4.0]).range([plot.left, plot.right]);
  const y = d3.scaleLinear().domain([-1.4, 1.4]).range([plot.bottom, plot.top]);

  const line = d3
    .line<Pt>()
    .x((d) => x(d[0]))
    .y((d) => y(d[1]));

  const xMinor = d3.range(353, 401).map((i) => i / 100);
  const yMinor = d3.range(-14, 15).map((i) => i / 10);

  const blackSeries = [h2Data, h4Data, h6Data, h8Data];

  const xInf = x(rInf);
  const arrowY = y(1.14);

  // legend entries: left column, right column
  const legendLeft = [
    { label: '\u03bb', sub: '', red: true },
    { label: 'h', sub: '2', red: false },
    { label: 'h', sub: '4', red: false },
  ];
  const legendRight = [
    { label: 'h', sub: '6', red: false },
    { label: 'h', sub: '8', red: false },
  ];

  const renderLegend = (
    items: { label: string; sub: string; red: boolean }[],
    x0: number,
    y0: number
  ) =>
    items.map((it, i) => {
      const ly = y0 + i * 71;
      return (
        <g key={it.sub + i}>
          <line
            x1={x0}
            x2={x0 + 70}
            y1={ly}
            y2={ly}
            stroke={it.red ? RED : '#333'}
            strokeWidth={1.2}
          />
          <text x={x0 + 94} y={ly + 17} fontSize={46} fontFamily={FONT} fill="#000">
            {it.label}
          </text>
          {it.sub && (
            <>
              <text x={x0 + 122} y={ly - 8} fontSize={31} fontFamily={FONT} fill="#000">
                out
              </text>
              <text x={x0 + 122} y={ly + 35} fontSize={31} fontFamily={FONT} fill="#000">
                {it.sub}
              </text>
            </>
          )}
        </g>
      );
    });

  return (
    <svg
      width={W}
      height={H}
      style={{ position: 'absolute', left: 0, top: 0, background: '#fff' }}
    >
      <defs>
        <clipPath id="plotClip">
          <rect
            x={plot.left}
            y={plot.top}
            width={plot.right - plot.left}
            height={plot.bottom - plot.top}
          />
        </clipPath>
      </defs>

      {/* curves */}
      <g clipPath="url(#plotClip)" fill="none" strokeLinejoin="round">
        <path d={line(lambdaData) || ''} stroke={RED} strokeWidth={1.1} />
        {blackSeries.map((s, i) => (
          <path key={i} d={line(s) || ''} stroke={BLACK} strokeWidth={1.2} />
        ))}
      </g>

      {/* r infinity marker */}
      <line
        x1={xInf}
        x2={xInf}
        y1={plot.top}
        y2={plot.bottom}
        stroke="#444"
        strokeWidth={1.3}
        strokeDasharray="15,8"
      />
      <line x1={xInf + 14} x2={xInf + 87} y1={arrowY} y2={arrowY} stroke="#555" strokeWidth={1.3} />
      <path
        d={`M${xInf + 12},${arrowY} L${xInf + 28},${arrowY - 8} L${xInf + 22},${arrowY} L${xInf + 28},${arrowY + 8} Z`}
        fill="#222"
      />
      <text x={xInf + 96} y={arrowY + 20} fontSize={52} fontFamily={FONT}>
        r
      </text>
      <text x={xInf + 111} y={arrowY + 32} fontSize={28} fontFamily={FONT}>
        {'\u221e'}
      </text>
      <text x={xInf + 132} y={arrowY + 20} fontSize={52} fontFamily={FONT}>
        = 3.56995...
      </text>

      {/* frame */}
      <rect
        x={plot.left}
        y={plot.top}
        width={plot.right - plot.left}
        height={plot.bottom - plot.top}
        fill="none"
        stroke={AXIS}
        strokeWidth={1.5}
      />

      {/* x ticks */}
      {xMinor.map((v, i) => {
        const major = Math.round(v * 100) % 10 === 0;
        return (
          <line
            key={'xt' + i}
            x1={x(v)}
            x2={x(v)}
            y1={plot.bottom}
            y2={plot.bottom + (major ? 20 : 8)}
            stroke={AXIS}
            strokeWidth={1.4}
          />
        );
      })}
      {xMajor.map((v, i) => (
        <text
          key={'xl' + i}
          x={x(v)}
          y={786}
          textAnchor="middle"
          fontSize={48}
          fontFamily={FONT}
        >
          {xLabels[i]}
        </text>
      ))}

      {/* y ticks */}
      {yMinor.map((v, i) => {
        const major = Math.round(v * 10) % 5 === 0;
        return (
          <line
            key={'yt' + i}
            x1={plot.left - (major ? 19 : 9)}
            x2={plot.left}
            y1={y(v)}
            y2={y(v)}
            stroke={AXIS}
            strokeWidth={1.4}
          />
        );
      })}
      {yMajor.map((v, i) => (
        <text
          key={'yl' + i}
          x={174}
          y={y(v) + 17}
          textAnchor="end"
          fontSize={48}
          fontFamily={FONT}
        >
          {yLabels[i]}
        </text>
      ))}

      {/* axis titles */}
      <text
        x={(plot.left + plot.right) / 2}
        y={846}
        textAnchor="middle"
        fontSize={48}
        fontFamily={FONT}
      >
        r
      </text>
      <g transform="translate(48,457) rotate(-90)" fontFamily={FONT}>
        <text x={0} y={0} fontSize={48}>
          h
        </text>
        <text x={28} y={-15} fontSize={32}>
          out
        </text>
        <text x={28} y={21} fontSize={30}>
          N
        </text>
        <text x={90} y={0} fontSize={48}>
          ,
        </text>
        <text x={134} y={0} fontSize={48}>
          {'\u03bb'}
        </text>
      </g>

      {/* legend */}
      {renderLegend(legendLeft, 540, 523)}
      {renderLegend(legendRight, 958, 523)}
    </svg>
  );
}
